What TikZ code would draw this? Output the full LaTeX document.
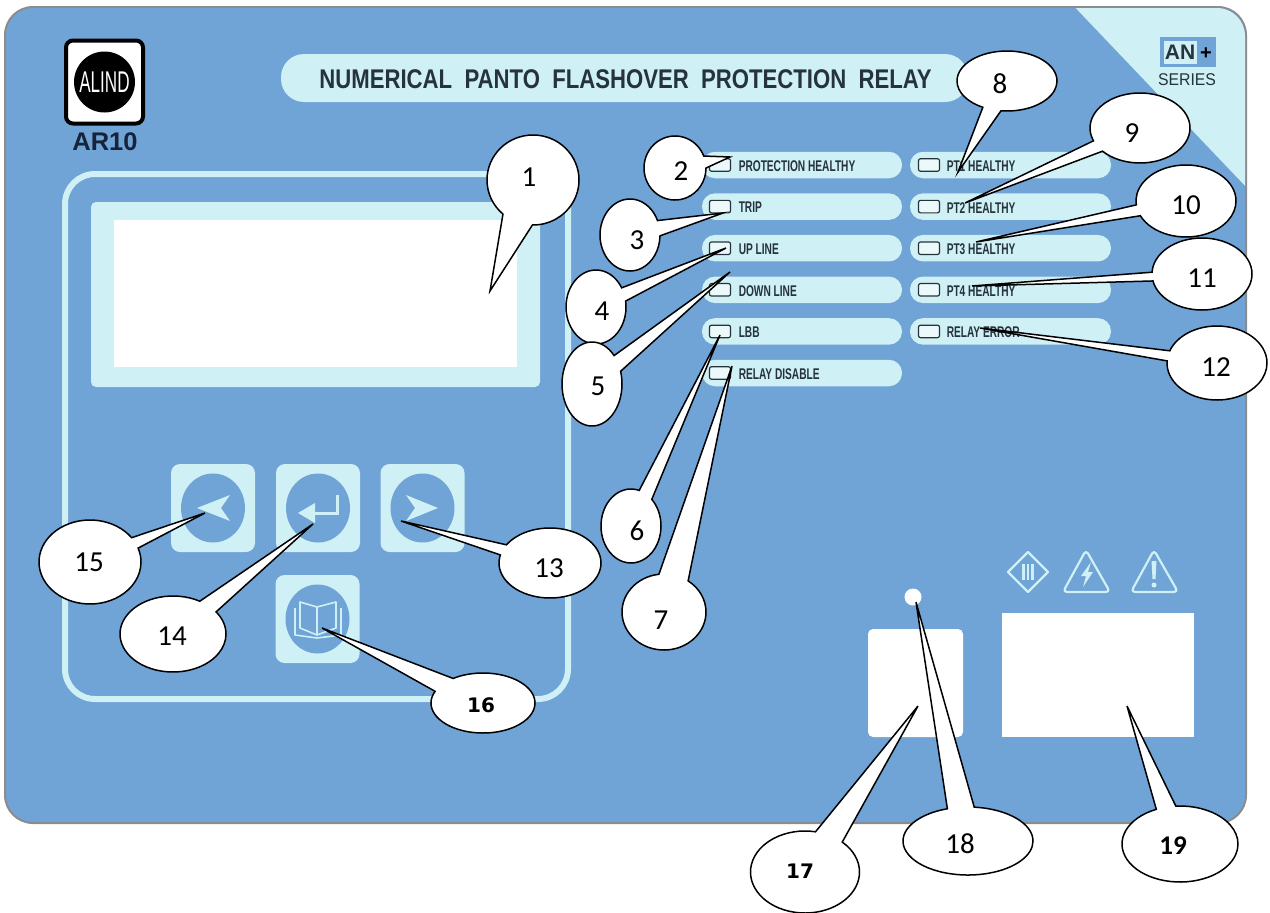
\documentclass[tikz,border=0pt]{standalone}
\usepackage{fontspec}
\setmainfont{Carlito}
\newfontfamily\headfont[FakeStretch=0.82]{Liberation Sans}
\newfontfamily\ledfont[FakeStretch=0.655]{Liberation Sans}
\newfontfamily\logofont[FakeStretch=0.57]{Liberation Sans}
\newfontfamily\seriesfont[FakeStretch=0.93]{Liberation Sans}
\newfontfamily\widefont{DejaVu Sans}
\usetikzlibrary{shapes.callouts, shapes.geometric, positioning}
\definecolor{cpanel}{HTML}{70A3D6}
\definecolor{clight}{HTML}{CFF0F5}
\definecolor{cink}{HTML}{26333C}
\definecolor{cedge}{HTML}{8C8C8C}
\definecolor{cnavy}{HTML}{17233B}
\tikzset{
  every picture/.style={line width=1.5pt},
  pill/.style={fill=clight, rounded corners=13pt, minimum width=200pt, minimum height=26.5pt, inner sep=0pt},
  led/.style={draw=cink, fill=clight!40, rounded corners=2pt, line width=1.2pt, minimum width=21pt, minimum height=12.5pt, inner sep=0pt},
  ledtext/.style={font=\ledfont\bfseries\fontsize{15.5}{15.5}\selectfont, text=cink, anchor=west, inner sep=0pt},
  keypad/.style={fill=clight, rounded corners=9pt, minimum width=84pt, minimum height=88pt, inner sep=0pt},
  keydisc/.style={ellipse, fill=cpanel, minimum width=64pt, minimum height=69pt, inner sep=0pt},
  glyph/.style={fill=clight, draw=none},
  icon/.style={draw=clight, line width=2.2pt, line join=round},
  bubble/.style={ellipse callout, draw=black, fill=white, inner sep=0pt, line width=1.5pt},
  num/.style={font=\fontsize{29}{29}\selectfont, text=black, inner sep=0pt},
}
\begin{document}
\begin{tikzpicture}[x=1pt, y=-1pt]
  \useasboundingbox (0,0) rectangle (1270,913);
  % panel
  \draw[draw=cedge, fill=cpanel, line width=2pt, rounded corners=28pt] (5,7) rectangle (1246,823);
  \begin{scope}
    \clip[rounded corners=28pt] (6,8) rectangle (1245,822);
    \fill[clight] (1068,0) -- (1250,0) -- (1250,191) -- cycle;
  \end{scope}
  % title and logo
  \node[fill=clight, rounded corners=23pt, minimum width=687pt, minimum height=48pt, inner sep=0pt] (head) at (624.5,78) {};
  \node[font=\headfont\bfseries\fontsize{27}{27}\selectfont, text=cink, inner sep=0pt] (headtext) at (625.5,79) {NUMERICAL\ \ PANTO\ \ FLASHOVER\ \ PROTECTION\ \ RELAY};
  \node[draw=black, fill=white, line width=4pt, rounded corners=7pt, minimum width=77pt, minimum height=83pt, inner sep=0pt] (logo) at (104.5,82) {};
  \node[circle, fill=black, minimum size=61pt, inner sep=0pt, font=\logofont\fontsize{30}{30}\selectfont, text=white] (alind) at (104.5,82) {ALIND};
  \node[font=\bfseries\fontsize{25.5}{25.5}\selectfont, text=cnavy, inner sep=0pt] (model) at (105,142) {\fontspec{Liberation Sans}AR10};
  % series badge
  \node[fill=cpanel, minimum width=56pt, minimum height=30pt, inner sep=0pt] (badge) at (1188,52) {};
  \node[fill=clight, minimum width=33pt, minimum height=23pt, inner sep=0pt, font=\fontspec{Liberation Sans}\bfseries\fontsize{21}{21}\selectfont, text=cink] (an) at (1180,52) {AN};
  \node[font=\fontspec{Liberation Sans}\bfseries\fontsize{20}{20}\selectfont, text=black, inner sep=0pt] (plus) at (1206,54) {+};
  \node[font=\seriesfont\fontsize{17}{17}\selectfont, text=cink, inner sep=0pt] (series) at (1187,80) {SERIES};
  % display and keys
  \draw[draw=clight, line width=6pt, rounded corners=30pt] (65,174) rectangle (568,699);
  \node[fill=clight, rounded corners=5pt, minimum width=449pt, minimum height=185pt, inner sep=0pt] (screen) at (315.5,294.5) {};
  \node[fill=white, minimum width=403pt, minimum height=147pt, inner sep=0pt] (lcd) at (315.5,293.5) {};
  \foreach \n/\x/\y in {left/213/508, enter/318/508, right/422.5/508, book/317.5/619} {
    \node[keypad] (pad\n) at (\x,\y) {};
    \node[keydisc] (disc\n) at (\x,\y) {};
  }
  \fill[glyph] (197,508) -- (230,495) -- (221,508) -- (230,521) -- cycle;
  \fill[glyph] (438,508) -- (406,495) -- (415,508) -- (406,521) -- cycle;
  \fill[glyph] (298,513) -- (315,503) -- (315,523) -- cycle;
  \draw[icon, line width=3pt, line join=miter] (313,513) -- (337,513) -- (337,495);
  \draw[icon, line width=1.6pt] (317,607) -- (300,602) -- (300,628) -- (317,635) -- (336,628) -- (336,602) -- cycle (317,607) -- (317,635);
  \draw[icon, line width=1.6pt] (295,608) -- (295,635) -- (317,638) -- (341,635) -- (341,608);
  % indicator rows
  \foreach \t [count=\i] in {PROTECTION HEALTHY, TRIP, UP LINE, DOWN LINE, LBB, RELAY DISABLE} {
    \node[pill] (lp\i) at (802,165+41.6*\i-41.6) {};
    \node[led] (ll\i) at (720,165+41.6*\i-41.6) {};
    \node[ledtext] (lt\i) at (738,166+41.6*\i-41.6) {\t};
  }
  \foreach \t [count=\i] in {PT1 HEALTHY, PT2 HEALTHY, PT3 HEALTHY, PT4 HEALTHY, RELAY ERROR} {
    \node[pill, minimum width=201pt] (rp\i) at (1010.5,165+41.6*\i-41.6) {};
    \node[led] (rl\i) at (929,165+41.6*\i-41.6) {};
    \node[ledtext] (rt\i) at (946,166+41.6*\i-41.6) {\t};
  }
  % front terminals
  \node[circle, fill=white, minimum size=17pt, inner sep=0pt] (port) at (913,597) {};
  \node[fill=white, rounded corners=5pt, minimum width=95pt, minimum height=108pt, inner sep=0pt] (window) at (915.5,683) {};
  \node[fill=white, minimum width=192pt, minimum height=124pt, inner sep=0pt] (terminal) at (1098,675) {};
  \draw[icon] (1028,552) -- (1048,572) -- (1028,592) -- (1008,572) -- cycle;
  \foreach \x in {1023.5,1028,1032.5} \draw[icon] (\x,564) -- (\x,580);
  \draw[icon, rounded corners=4pt] (1086,550) -- (1110,592) -- (1063,592) -- cycle;
  \fill[glyph] (1091,562) -- (1081,576) -- (1086,576) -- (1083,587) -- (1093,572) -- (1088,572) -- cycle;
  \draw[icon, rounded corners=4pt] (1154,550) -- (1178,592) -- (1131,592) -- cycle;
  \fill[glyph] (1151.5,561) -- (1156.5,561) -- (1155.5,579) -- (1152.5,579) -- cycle;
  \fill[glyph] (1154,585) circle (2.5);
  % callouts
  \foreach \n/\x/\y/\w/\h/\tx/\ty/\a/\lx/\ly in {
    1/533/180/92/90/490/291/40/529/177,
    2/675/168/62/64/730/157/22/681/171,
    3/630/235/60/72/723/213/25/637/240,
    4/596/307/60/74/726/248/22/602/311,
    5/592/384/60/84/730/272/25/598/386,
    6/631/526/60/74/720/335/28/637/531,
    7/664/612/84/76/732/366/42/661/620,
    8/1007/81/100/60/958/172/22/1000/84,
    9/1140/128/100/70/965/203/20/1132/133,
    10/1186/201/100/72/976/242/18/1186/205,
    11/1202/274/100/72/972/286/14/1202/278,
    12/1217/363/100/74/980/328/16/1216/367,
    13/550/563/102/70/401/521/18/549/568,
    14/173/634/106/76/313/524/24/172/636,
    15/90/562/102/84/205/513/16/89/562,
    18/968/841/130/68/916/602/24/960/844} {
    \node[bubble, minimum width=\w pt, minimum height=\h pt, callout absolute pointer={(\tx,\ty)}, callout pointer arc=\a] (c\n) at (\x,\y) {};
    \node[num] (t\n) at (\lx,\ly) {\n};
  }
  \node[bubble, minimum width=104pt, minimum height=60pt, callout absolute pointer={(322,628)}, callout pointer arc=32] (c16) at (483,703) {};
  \node[inner sep=0pt, font=\widefont\bfseries\fontsize{20}{20}\selectfont] (t16) at (481,705) {16};
  \node[bubble, minimum width=109pt, minimum height=82pt, callout absolute pointer={(918,706)}, callout pointer arc=32] (c17) at (805,872) {};
  \node[inner sep=0pt, font=\widefont\bfseries\fontsize{20}{20}\selectfont] (t17) at (800,871) {17};
  \node[bubble, minimum width=116pt, minimum height=76pt, callout absolute pointer={(1127,706)}, callout pointer arc=20] (c19) at (1180,844) {};
  \node[inner sep=0pt, font=\bfseries\fontsize{27}{27}\selectfont] (t19) at (1173,846) {19};
\end{tikzpicture}
\end{document}
